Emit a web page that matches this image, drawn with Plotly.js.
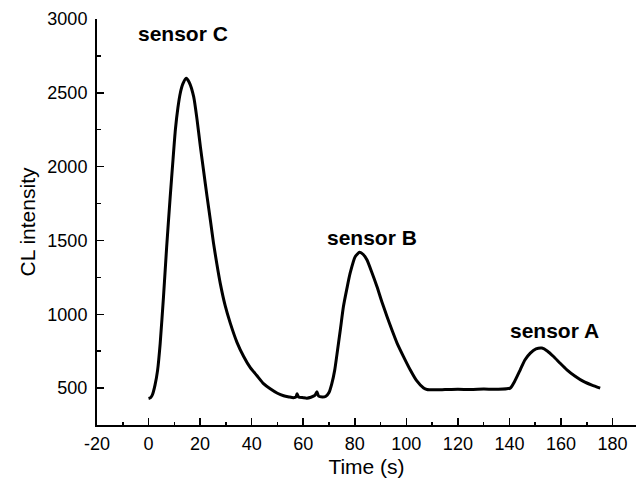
<!DOCTYPE html>
<html>
<head>
<meta charset="utf-8">
<script src="https://cdn.plot.ly/plotly-3.0.1.min.js"></script>
<style>html,body{margin:0;padding:0;background:#fff;}#chart{width:636px;height:478px;}</style>
</head>
<body>
<div id="chart"></div>
<script>
const timeS = [0, 0.8, 1.5, 2.5, 3.5, 4.5, 5.8, 7, 8.4, 9.5, 10.4, 11.4, 12.3, 13.3, 14.6, 15.8, 17.5, 18.8, 20.1, 21.4, 22.7, 24, 25.2, 26.5, 27.8, 29.7, 31.7, 34.3, 36.9, 39.4, 42, 44.6, 47.2, 50, 52.4, 54.5, 56.2, 57.2, 57.6, 58.2, 60, 61.4, 63, 64.5, 65.3, 66, 67.5, 68.8, 70, 71.1, 72.2, 73.1, 74.4, 75.6, 76.9, 78.2, 80.2, 81.9, 83.3, 84.7, 86.6, 88.6, 90.5, 92.5, 94.5, 96.4, 99, 101.5, 104, 106.7, 108, 110.6, 115, 120, 125, 130, 135, 140.3, 142, 144.2, 146, 148.1, 150.3, 152.6, 154.8, 157.1, 159.7, 162.3, 165.5, 168.7, 172, 175.2];
const intensity = [430, 435, 455, 520, 620, 800, 1120, 1450, 1797, 2050, 2249, 2400, 2497, 2560, 2598, 2570, 2474, 2320, 2136, 1965, 1797, 1635, 1482, 1340, 1211, 1060, 940, 810, 714, 640, 585, 530, 495, 465, 448, 440, 435, 440, 462, 440, 435, 432, 438, 450, 475, 445, 440, 445, 470, 530, 620, 730, 895, 1052, 1170, 1278, 1391, 1420, 1405, 1369, 1285, 1188, 1085, 985, 890, 805, 710, 624, 550, 500, 490, 488, 490, 492, 490, 493, 492, 500, 545, 624, 690, 737, 765, 771, 750, 714, 668, 624, 580, 545, 520, 500];
const labelText = ["sensor C", "sensor B", "sensor A"];
const labelX = [13.5, 86.5, 157.3];
const labelY = [2900, 1521, 890];
const xTickVals = [-20, 0, 20, 40, 60, 80, 100, 120, 140, 160, 180];
const xTickText = ["-20", "0", "20", "40", "60", "80", "100", "120", "140", "160", "180"];
const yTickVals = [500, 1000, 1500, 2000, 2500, 3000];

const font = "Arial, 'Liberation Sans', sans-serif";
const trace = {
  x: timeS, y: intensity, type: "scatter", mode: "lines",
  line: {color: "#000", width: 3, shape: "spline", smoothing: 0.6},
  hoverinfo: "skip", showlegend: false
};
const annotations = labelText.map((t, i) => ({
  x: labelX[i], y: labelY[i], xref: "x", yref: "y", text: "<b>" + t + "</b>",
  showarrow: false, font: {family: font, size: 21, color: "#000"}
}));
const layout = {
  width: 636, height: 478,
  margin: {l: 97, r: 0, t: 19, b: 53},
  paper_bgcolor: "#fff", plot_bgcolor: "#fff",
  font: {family: font, color: "#000"},
  xaxis: {
    range: [-20, 189.1], tickvals: xTickVals, ticktext: xTickText, ticks: "inside", ticklen: 7, tickwidth: 1.5,
    tickcolor: "#000", minor: {dtick: 10, tick0: 0, ticks: "inside", ticklen: 3.5, tickwidth: 1.5, tickcolor: "#000"},
    showline: true, linecolor: "#000", linewidth: 2, showgrid: false, zeroline: false,
    tickfont: {size: 18, family: font}, ticklabelstandoff: 1,
    title: {text: "Time (s)", font: {size: 21, family: font}, standoff: 9}
  },
  yaxis: {
    range: [250, 3000], tickvals: yTickVals, ticks: "inside", ticklen: 7, tickwidth: 1.5,
    tickcolor: "#000", minor: {dtick: 250, tick0: 0, ticks: "inside", ticklen: 3.5, tickwidth: 1.5, tickcolor: "#000"},
    showline: true, linecolor: "#000", linewidth: 2, showgrid: false, zeroline: false,
    tickfont: {size: 18, family: font}, ticklabelstandoff: 4,
    title: {text: "CL intensity", font: {size: 21, family: font}, standoff: 6}
  },
  annotations: annotations
};
Plotly.newPlot("chart", [trace], layout, {staticPlot: true, displayModeBar: false});
</script>
</body>
</html>
